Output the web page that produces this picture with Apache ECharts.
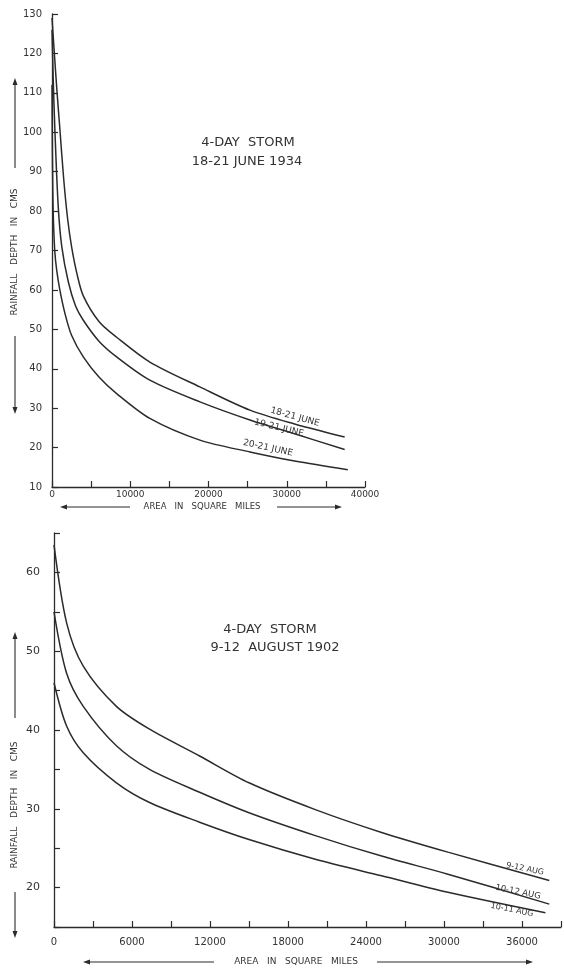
<!DOCTYPE html>
<html>
<head>
<meta charset="utf-8">
<script src="https://cdn.jsdelivr.net/npm/echarts@6/dist/echarts.min.js"></script>
<style>
html,body{margin:0;padding:0;background:#fff;}
#chart{width:564px;height:968px;}
</style>
</head>
<body>
<div id="chart"></div>
<script>
// ---- Top chart: 4-day storm 18-21 June 1934 ----
var juneArea18 = [0, 300, 650, 1000, 1500, 2000, 2500, 3200, 4000, 6000, 8260, 12500, 18900, 25300, 31000, 37400];
var juneDepth18 = [129, 120, 110, 101, 88, 78, 71, 64, 58.5, 52, 48, 41.7, 35.4, 29.5, 26, 22.7];
var juneArea19 = [0, 150, 380, 800, 1250, 2090, 3000, 4000, 6000, 8260, 12500, 18900, 25300, 31000, 37400];
var juneDepth19 = [126, 114, 100, 81, 71, 62, 56, 52.3, 47, 43, 37.1, 31.6, 27, 23.5, 19.5];
var juneArea20 = [0, 50, 150, 350, 600, 1000, 1660, 2500, 4000, 6000, 8260, 12500, 18900, 25300, 31000, 37800];
var juneDepth20 = [112, 95, 80, 70, 65, 60, 54, 48.5, 43, 37.9, 33.7, 27.4, 21.9, 18.9, 16.6, 14.4];
var juneNames = ['18-21 JUNE', '19-21 JUNE', '20-21 JUNE'];

// ---- Bottom chart: 4-day storm 9-12 August 1902 ----
var augArea9 = [0, 970, 2250, 4800, 7350, 11200, 15000, 20100, 25200, 30300, 38100];
var augDepth9 = [63.5, 53.6, 48.1, 43.0, 40.1, 36.7, 33.3, 29.9, 27.0, 24.5, 20.9];
var augArea10 = [0, 970, 2250, 4800, 7350, 11200, 15000, 20100, 25200, 30300, 38100];
var augDepth10 = [55, 47.2, 43.0, 38.0, 35.0, 32.1, 29.5, 26.6, 24.0, 21.7, 17.9];
var augArea1011 = [0, 970, 2250, 4800, 7350, 11200, 15000, 20100, 25200, 30300, 37800];
var augDepth1011 = [46, 40.5, 37.1, 33.3, 30.8, 28.3, 26.1, 23.6, 21.5, 19.4, 16.8];
var augNames = ['9-12 AUG', '10-12 AUG', '10-11 AUG'];

var titlesTop = ['4-DAY  STORM', '18-21 JUNE 1934'];
var titlesBottom = ['4-DAY  STORM', '9-12  AUGUST 1902'];
var yName = 'RAINFALL   DEPTH   IN   CMS';
var xName = 'AREA   IN   SQUARE   MILES';

function pairs(xs, ys){ return xs.map(function(x,i){ return [x, ys[i]]; }); }

var ink = '#2b2b2b';
var font = 'DejaVu Sans';

function lineSeries(name, xi, yi, xs, ys){
  return {
    name: name, type: 'line', xAxisIndex: xi, yAxisIndex: yi,
    data: pairs(xs, ys), showSymbol: false, smooth: 0.3, clip: true,
    lineStyle: {color: ink, width: 1.5}, z: 3
  };
}

function axisCommon(){
  return {
    axisLine: {show: true, onZero: false, lineStyle: {color: ink, width: 1.3}},
    axisTick: {show: true, inside: true, length: 6, lineStyle: {color: ink, width: 1.2}},
    splitLine: {show: false},
    axisLabel: {color: '#333', fontFamily: font, fontSize: 10, margin: 8}
  };
}

var xTop = Object.assign(axisCommon(), {type: 'value', gridIndex: 0, min: 0, max: 40000, interval: 5000});
xTop.axisLabel.formatter = function(v){ return v % 10000 === 0 ? String(v) : ''; };
xTop.axisLabel.fontSize = 9;
xTop.axisLabel.margin = 3;
var yTop = Object.assign(axisCommon(), {type: 'value', gridIndex: 0, min: 10, max: 130, interval: 10});
yTop.axisLabel.margin = 10;
var xBot = Object.assign(axisCommon(), {type: 'value', gridIndex: 1, min: 0, max: 39000, interval: 3000});
xBot.axisLabel.formatter = function(v){ return v % 6000 === 0 ? String(v) : ''; };
xBot.axisLabel.fontSize = 10;
xBot.axisLabel.margin = 10;
var yBot = Object.assign(axisCommon(), {type: 'value', gridIndex: 1, min: 15, max: 65, interval: 5});
yBot.axisLabel.formatter = function(v){ return (v % 10 === 0 && v < 65) ? String(v) : ''; };
yBot.axisLabel.fontSize = 11;
yBot.axisLabel.margin = 14;

function txt(x, y, s, size, rot, opts){
  var o = {type: 'text', x: x, y: y, rotation: rot || 0, z: 10,
    style: {text: s, fill: '#333', font: (size||10) + 'px "' + font + '"', textAlign: 'center', textVerticalAlign: 'middle'}};
  if (opts) Object.assign(o.style, opts);
  return o;
}
function hline(x1, x2, y){ return {type:'line', shape:{x1:x1,y1:y,x2:x2,y2:y}, style:{stroke:ink, lineWidth:1.1}}; }
function vline(x, y1, y2){ return {type:'line', shape:{x1:x,y1:y1,x2:x,y2:y2}, style:{stroke:ink, lineWidth:1.1}}; }
function head(x, y, dir){
  var p;
  if (dir === 'left') p = [[x,y],[x+7,y-2.5],[x+7,y+2.5]];
  else if (dir === 'right') p = [[x,y],[x-7,y-2.5],[x-7,y+2.5]];
  else if (dir === 'up') p = [[x,y],[x-2.5,y+7],[x+2.5,y+7]];
  else p = [[x,y],[x-2.5,y-7],[x+2.5,y-7]];
  return {type:'polygon', shape:{points:p}, style:{fill:ink}};
}

var graphics = [
  // top titles
  txt(248, 143, titlesTop[0], 13, 0),
  txt(247, 162, titlesTop[1], 13, 0),
  // bottom titles
  txt(270, 630, titlesBottom[0], 13, 0),
  txt(275, 648, titlesBottom[1], 13, 0),
  // top series labels
  txt(295, 417, juneNames[0], 9, -0.27),
  txt(279, 428, juneNames[1], 9, -0.24),
  txt(268, 448, juneNames[2], 9, -0.22),
  // bottom series labels
  txt(525, 869, augNames[0], 8, -0.2),
  txt(518, 892, augNames[1], 8.5, -0.2),
  txt(512, 910, augNames[2], 8, -0.2),
  // top y name
  txt(15, 252, yName, 9, Math.PI/2),
  vline(15, 82, 168), head(15, 78, 'up'),
  vline(15, 336, 410), head(15, 414, 'down'),
  // top x name
  txt(202, 507, xName, 8.5, 0),
  hline(64, 130, 507), head(60, 507, 'left'),
  hline(277, 338, 507), head(342, 507, 'right'),
  // bottom y name
  txt(15, 805, yName, 9, Math.PI/2),
  vline(15, 636, 718), head(15, 632, 'up'),
  vline(15, 892, 934), head(15, 938, 'down'),
  // bottom x name
  txt(296, 962, xName, 9, 0),
  hline(87, 214, 962), head(83, 962, 'left'),
  hline(377, 529, 962), head(533, 962, 'right')
];

var option = {
  backgroundColor: '#ffffff',
  animation: false,
  grid: [
    {left: 52, right: 199, top: 14, bottom: 481},
    {left: 54, right: 1, top: 533, bottom: 41}
  ],
  xAxis: [xTop, xBot],
  yAxis: [yTop, yBot],
  series: [
    lineSeries(juneNames[0], 0, 0, juneArea18, juneDepth18),
    lineSeries(juneNames[1], 0, 0, juneArea19, juneDepth19),
    lineSeries(juneNames[2], 0, 0, juneArea20, juneDepth20),
    lineSeries(augNames[0], 1, 1, augArea9, augDepth9),
    lineSeries(augNames[1], 1, 1, augArea10, augDepth10),
    lineSeries(augNames[2], 1, 1, augArea1011, augDepth1011)
  ],
  graphic: graphics
};

var chart = echarts.init(document.getElementById('chart'), null, {renderer: 'canvas'});
chart.setOption(option);
</script>
</body>
</html>
